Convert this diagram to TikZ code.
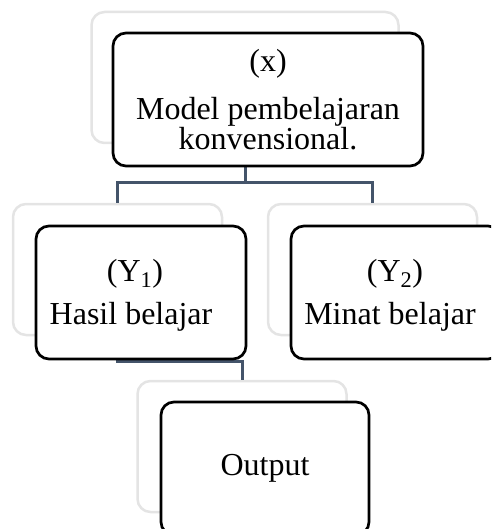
\documentclass[tikz,border=0pt]{standalone}
\usepackage{fontspec}
\setmainfont{Liberation Serif}
\usetikzlibrary{calc}
\definecolor{backgray}{HTML}{E4E4E4}
\definecolor{connblue}{HTML}{44546A}
\tikzset{
  backbox/.style={draw=backgray, line width=2.5pt, fill=white, rounded corners=13pt, minimum width=209pt, minimum height=131pt, inner sep=0pt},
  frontbox/.style={draw=black, line width=2.7pt, fill=white, rounded corners=13pt, minimum width=210pt, minimum height=133pt, inner sep=0pt},
  conn/.style={draw=connblue, line width=3pt},
  lbl/.style={inner sep=0pt, font=\fontsize{32}{27}\selectfont, align=center}
}
\begin{document}
\begin{tikzpicture}[x=1pt,y=-1pt]
\useasboundingbox (0,0) rectangle (491,529);
\clip (0,0) rectangle (491,529);
% back boxes
\node[backbox, minimum width=307pt] (xb) at (245,77.5) {};
\node[backbox] (y1b) at (117.5,269.5) {};
\node[backbox] (y2b) at (372.5,269.5) {};
\node[backbox] (outb) at (242,446.5) {};
% connectors
\coordinate (j1) at (245,183);
\coordinate (j2) at (117.5,361);
\draw[conn] (xb.south) -- (j1) -| (y1b.north);
\draw[conn] (j1) -| (y2b.north);
\draw[conn] (y1b.south) -- (j2) -| (outb.north);
% front boxes
\node[frontbox, minimum width=310pt] (xf) at (268,99.5) {};
\node[frontbox] (y1f) at (141,292.5) {};
\node[frontbox] (y2f) at (396,292.5) {};
\node[frontbox, minimum width=208pt] (outf) at (265,468.5) {};
% texts
\node[lbl] (xt1) at (268,64) {(x)};
\node[lbl] (xt2) at (268,124) {Model pembelajaran\\konvensional.};
\node[lbl] (y1t1) at (135,274) {(Y\textsubscript{1})};
\node[lbl] (y1t2) at (131,317) {Hasil belajar};
\node[lbl] (y2t1) at (395,274) {(Y\textsubscript{2})};
\node[lbl] (y2t2) at (390,317) {Minat belajar};
\node[lbl] (outt) at (265,468) {Output};
\end{tikzpicture}
\end{document}
